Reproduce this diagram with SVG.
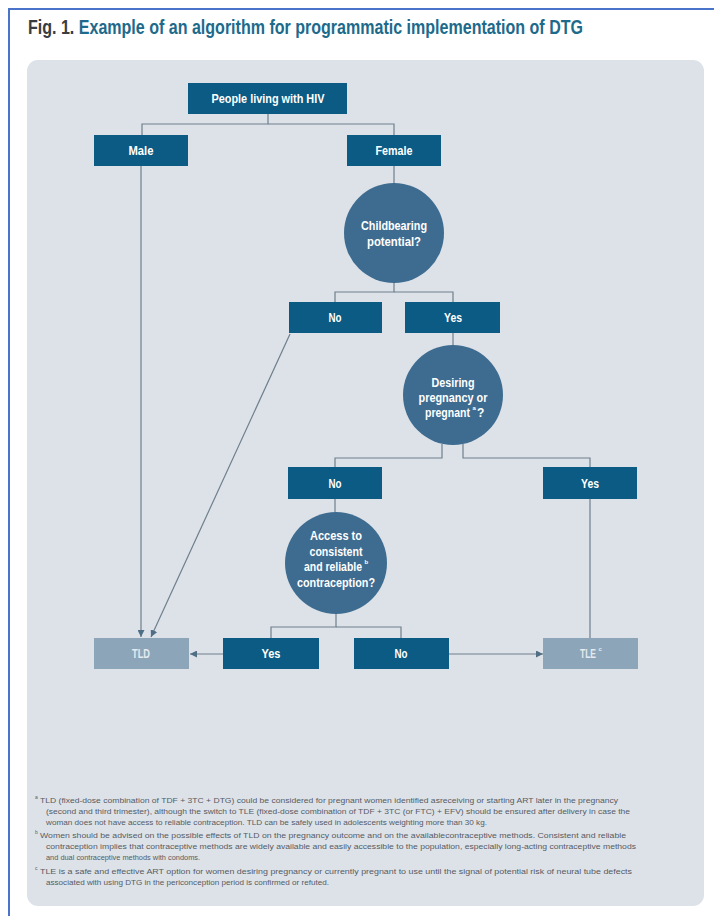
<svg xmlns="http://www.w3.org/2000/svg" width="714" height="916" viewBox="0 0 714 916">
<defs>
<style>
.frame{stroke:#4a74c9;stroke-width:2;fill:none}
.panel{fill:#dde2e9}
.box{fill:#0b5b84}
.circ{fill:#3e6c90}
.res{fill:#8da5b8}
.lbl{font-family:"Liberation Sans",Arial,sans-serif;font-weight:bold;font-size:12px;fill:#ffffff;text-anchor:middle}
.lbs{font-family:"Liberation Sans",Arial,sans-serif;font-weight:bold;font-size:12px;fill:#ffffff}
.sp{font-family:"Liberation Sans",Arial,sans-serif;font-weight:bold;font-size:6px;fill:#ffffff}
.rlbl{font-family:"Liberation Sans",Arial,sans-serif;font-weight:bold;font-size:12px;fill:#e4eaef;text-anchor:middle}
.rlbs{font-family:"Liberation Sans",Arial,sans-serif;font-weight:bold;font-size:12px;fill:#e4eaef}
.rsp{font-family:"Liberation Sans",Arial,sans-serif;font-weight:bold;font-size:6px;fill:#e4eaef}
.c{stroke:#6e7f8b;stroke-width:1.2;fill:none}
.fn{font-family:"Liberation Sans",Arial,sans-serif;font-size:7.4px;fill:#555b62}
.sup{font-family:"Liberation Sans",Arial,sans-serif;font-size:5px;fill:#555b62}
</style>
<marker id="ah" viewBox="0 0 10 10" refX="10" refY="5" markerWidth="7" markerHeight="7" markerUnits="userSpaceOnUse" orient="auto">
<path d="M0,0 L10,5 L0,10 Z" fill="#4f6f86"/>
</marker>
</defs>
<rect width="714" height="916" fill="#ffffff"/>
<path class="frame" d="M9,916 V9 H714"/>
<rect class="panel" x="27" y="60" width="677" height="846" rx="11"/>
<text x="28" y="34" font-family="'Liberation Sans',Arial,sans-serif" font-weight="bold" font-size="20" textLength="555" lengthAdjust="spacingAndGlyphs"><tspan fill="#3a3d40">Fig. 1. </tspan><tspan fill="#1e6a8b">Example of an algorithm for programmatic implementation of DTG</tspan></text>

<g id="connectors">
<path class="c" d="M268,114 V124 H142 V135"/>
<path class="c" d="M268,124 H394 V135"/>
<path class="c" d="M394,166 V183"/>
<path class="c" d="M394,282 V292 H335 V302"/>
<path class="c" d="M394,292 H453 V302"/>
<path class="c" d="M453,333 V345"/>
<path class="c" d="M442,444 V458 H335 V467"/>
<path class="c" d="M463,444 V458 H590 V467"/>
<path class="c" d="M335,499 V512"/>
<path class="c" d="M336,614 V627 H271 V638"/>
<path class="c" d="M336,627 H401 V638"/>
<path class="c" d="M590,499 V638"/>
<path class="c" d="M223,654 H190" marker-end="url(#ah)"/>
<path class="c" d="M449,654 H543" marker-end="url(#ah)"/>
<path class="c" d="M141,166 V637" marker-end="url(#ah)"/>
<path class="c" d="M290,334 L151,637" marker-end="url(#ah)"/>
</g>

<g id="people">
<rect class="box" x="188" y="83" width="159" height="31"/>
<text class="lbl" x="268" y="103" textLength="113" lengthAdjust="spacingAndGlyphs">People living with HIV</text>
</g>
<g id="male">
<rect class="box" x="94" y="135" width="94" height="31"/>
<text class="lbl" x="141" y="155" textLength="25" lengthAdjust="spacingAndGlyphs">Male</text>
</g>
<g id="female">
<rect class="box" x="347" y="135" width="94" height="31"/>
<text class="lbl" x="394" y="155" textLength="37" lengthAdjust="spacingAndGlyphs">Female</text>
</g>
<g id="childbearing">
<circle class="circ" cx="394" cy="233" r="50"/>
<text class="lbl" x="394" y="230" textLength="66" lengthAdjust="spacingAndGlyphs">Childbearing</text>
<text class="lbl" x="394" y="246" textLength="54" lengthAdjust="spacingAndGlyphs">potential?</text>
</g>
<g id="no1">
<rect class="box" x="289" y="302" width="93" height="31"/>
<text class="lbl" x="335" y="322" textLength="13" lengthAdjust="spacingAndGlyphs">No</text>
</g>
<g id="yes1">
<rect class="box" x="405" y="302" width="95" height="31"/>
<text class="lbl" x="453" y="322" textLength="18" lengthAdjust="spacingAndGlyphs">Yes</text>
</g>
<g id="desiring">
<circle class="circ" cx="453" cy="395" r="50"/>
<text class="lbl" x="453" y="387" textLength="43" lengthAdjust="spacingAndGlyphs">Desiring</text>
<text class="lbl" x="453" y="402" textLength="69" lengthAdjust="spacingAndGlyphs">pregnancy or</text>
<text class="lbs" x="425" y="417" textLength="45" lengthAdjust="spacingAndGlyphs">pregnant</text>
<text class="sp" x="472.5" y="410">a</text>
<text class="lbs" x="477" y="417">?</text>
</g>
<g id="no2">
<rect class="box" x="288" y="467" width="94" height="32"/>
<text class="lbl" x="335" y="488" textLength="13" lengthAdjust="spacingAndGlyphs">No</text>
</g>
<g id="yes2">
<rect class="box" x="543" y="467" width="94" height="32"/>
<text class="lbl" x="590" y="488" textLength="18" lengthAdjust="spacingAndGlyphs">Yes</text>
</g>
<g id="access">
<circle class="circ" cx="336" cy="563" r="51"/>
<text class="lbl" x="336" y="540" textLength="52" lengthAdjust="spacingAndGlyphs">Access to</text>
<text class="lbl" x="336" y="556" textLength="53" lengthAdjust="spacingAndGlyphs">consistent</text>
<text class="lbs" x="304" y="571" textLength="58" lengthAdjust="spacingAndGlyphs">and reliable</text>
<text class="sp" x="364.5" y="564">b</text>
<text class="lbl" x="336" y="587" textLength="78" lengthAdjust="spacingAndGlyphs">contraception?</text>
</g>
<g id="tld">
<rect class="res" x="94" y="638" width="95" height="31"/>
<text class="rlbl" x="141" y="658" textLength="18" lengthAdjust="spacingAndGlyphs">TLD</text>
</g>
<g id="yes3">
<rect class="box" x="223" y="638" width="96" height="31"/>
<text class="lbl" x="271" y="658" textLength="19" lengthAdjust="spacingAndGlyphs">Yes</text>
</g>
<g id="no3">
<rect class="box" x="354" y="638" width="95" height="31"/>
<text class="lbl" x="401" y="658" textLength="13" lengthAdjust="spacingAndGlyphs">No</text>
</g>
<g id="tle">
<rect class="res" x="543" y="638" width="95" height="31"/>
<text class="rlbs" x="580" y="658" textLength="16" lengthAdjust="spacingAndGlyphs">TLE</text>
<text class="rsp" x="598.5" y="651">c</text>
</g>

<g id="footnotes">
<text class="sup" x="35" y="799">a</text>
<text class="fn" x="40" y="803" textLength="578" lengthAdjust="spacingAndGlyphs">TLD (fixed-dose combination of TDF + 3TC + DTG) could be considered for pregnant women identified asreceiving or starting ART later in the pregnancy</text>
<text class="fn" x="46" y="814" textLength="584" lengthAdjust="spacingAndGlyphs">(second and third trimester), although the switch to TLE (fixed-dose combination of TDF + 3TC (or FTC) + EFV) should be ensured after delivery in case the</text>
<text class="fn" x="46" y="825" textLength="441" lengthAdjust="spacingAndGlyphs">woman does not have access to reliable contraception. TLD can be safely used in adolescents weighting more than 30 kg.</text>
<text class="sup" x="35" y="834">b</text>
<text class="fn" x="40" y="838" textLength="586" lengthAdjust="spacingAndGlyphs">Women should be advised on the possible effects of TLD on the pregnancy outcome and on the availablecontraceptive methods. Consistent and reliable</text>
<text class="fn" x="46" y="849" textLength="590" lengthAdjust="spacingAndGlyphs">contraception implies that contraceptive methods are widely available and easily accessible to the population, especially long-acting contraceptive methods</text>
<text class="fn" x="46" y="860">and dual contraceptive methods with condoms.</text>
<text class="sup" x="35" y="870">c</text>
<text class="fn" x="40" y="874" textLength="592" lengthAdjust="spacingAndGlyphs">TLE is a safe and effective ART option for women desiring pregnancy or currently pregnant to use until the signal of potential risk of neural tube defects</text>
<text class="fn" x="46" y="885" textLength="283" lengthAdjust="spacingAndGlyphs">associated with using DTG in the periconception period is confirmed or refuted.</text>
</g>
</svg>
